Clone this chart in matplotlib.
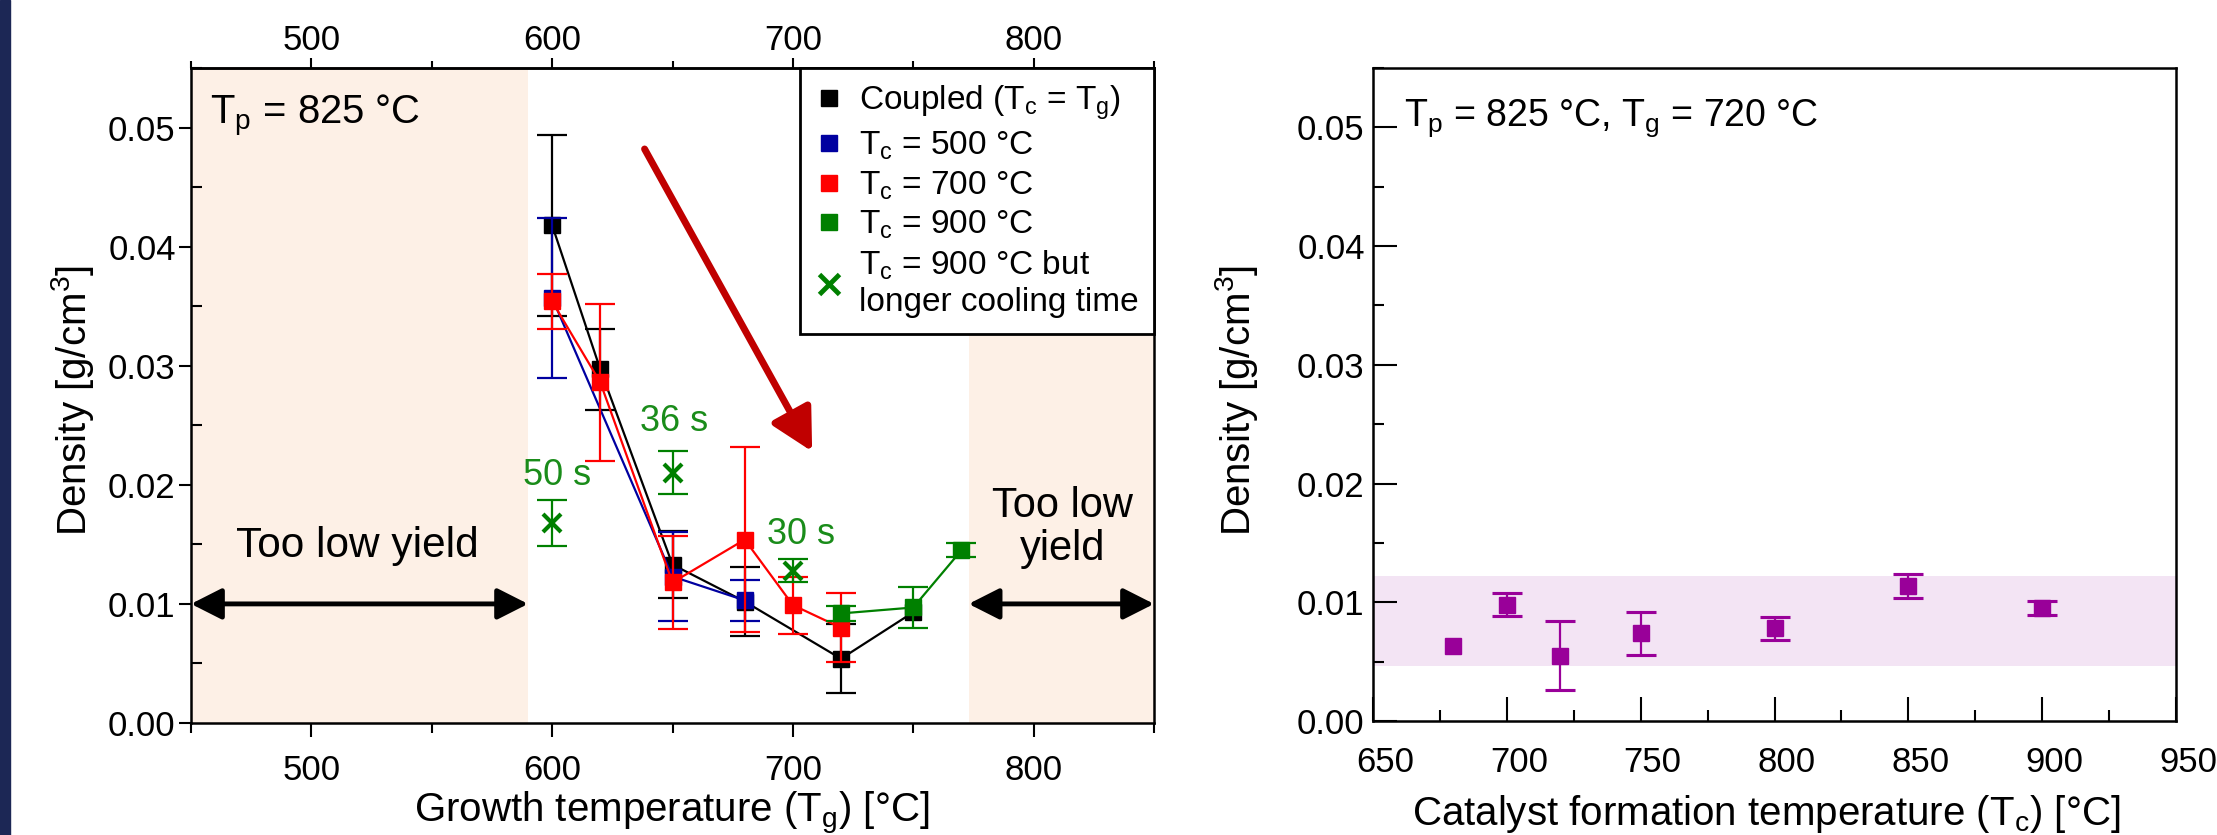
import matplotlib
matplotlib.use('Agg')
import numpy as np
import matplotlib.pyplot as plt
from matplotlib.lines import Line2D
from matplotlib.patches import Rectangle
import matplotlib.transforms as mtransforms
from matplotlib.ticker import MultipleLocator, FormatStrFormatter

plt.rcParams['font.family'] = ['Liberation Sans', 'DejaVu Sans']
plt.rcParams['mathtext.default'] = 'regular'

# ---------------- data (left panel) ----------------
coupled_x = [600, 620, 650, 680, 720, 750]
coupled_y = [0.0418, 0.0297, 0.0133, 0.0102, 0.0054, 0.0093]
coupled_err = [0.0076, 0.0034, 0.0028, 0.0029, 0.0029, 0.0]

tc500_x = [600, 650, 680]
tc500_y = [0.0357, 0.0123, 0.0103]
tc500_err = [0.0067, 0.0037, 0.0017]

tc700_x = [600, 620, 650, 680, 700, 720]
tc700_y = [0.0354, 0.0286, 0.0118, 0.0154, 0.0099, 0.0080]
tc700_err = [0.0023, 0.0066, 0.0039, 0.0078, 0.0024, 0.0029]

tc900_x = [720, 750, 770]
tc900_y = [0.0092, 0.0097, 0.0145]
tc900_err = [0.0006, 0.0017, 0.0006]

tc900long_x = [600, 650, 700]
tc900long_y = [0.0168, 0.0210, 0.0128]
tc900long_err = [0.0019, 0.0018, 0.0010]
tc900long_labels = ['50 s', '36 s', '30 s']

legend_labels = ['Coupled (T$_c$ = T$_g$)', 'T$_c$ = 500 °C', 'T$_c$ = 700 °C',
                 'T$_c$ = 900 °C', 'T$_c$ = 900 °C but\nlonger cooling time']

# ---------------- data (right panel) ----------------
right_x = [680, 700, 720, 750, 800, 850, 900]
right_y = [0.0063, 0.0098, 0.0055, 0.0074, 0.0078, 0.0114, 0.0095]
right_err = [0.0, 0.00098, 0.0029, 0.0018, 0.00096, 0.0010, 0.00058]
band_low, band_high = 0.0046, 0.0122

low_yield_left = (450, 590)
low_yield_right = (773, 850)

# ---------------- styles ----------------
C_BLACK = 'black'
C_BLUE = '#0000a0'
C_RED = '#ff0000'
C_GREEN = '#008000'
C_GTEXT = '#1a8c1a'
C_PURPLE = '#990099'
C_SHADE = '#fdf0e6'
C_BAND = '#f3e4f4'
MS = 12
CAP = 11
LW = 1.6
TICK_FS = 25
LABEL_FS = 29
label_offsets = [(3.6, 34), (1, 37), (6, 26)]  # points, for the "x s" labels

fig = plt.figure(figsize=(22.17, 8.35), dpi=100)
fig.patches.append(Rectangle((0, 0), 10 / 2217, 1, transform=fig.transFigure,
                             color='#1c2755', zorder=0))

axL = fig.add_axes([191 / 2217, 1 - 723 / 835, (1154 - 191) / 2217, (723 - 68) / 835])
axR = fig.add_axes([1373 / 2217, 1 - 721 / 835, (2176 - 1373) / 2217, (721 - 68) / 835])

# ---------- left panel ----------
axL.axvspan(*low_yield_left, color=C_SHADE, lw=0, zorder=0)
axL.axvspan(*low_yield_right, color=C_SHADE, lw=0, zorder=0)


def series(ax, x, y, err, color, z, marker='s', ms=MS, mew=1):
    x = np.asarray(x); y = np.asarray(y); err = np.asarray(err)
    ax.plot(x, y, '-', color=color, lw=LW, zorder=z)
    m = err > 0
    ax.errorbar(x[m], y[m], yerr=err[m], fmt='none', ecolor=color, elinewidth=LW,
                capsize=CAP, capthick=LW, zorder=z)
    ax.plot(x, y, ls='none', marker=marker, ms=ms, color=color, mew=mew, zorder=z + 0.5)


series(axL, coupled_x, coupled_y, coupled_err, C_BLACK, 3)
series(axL, tc500_x, tc500_y, tc500_err, C_BLUE, 4)
series(axL, tc700_x, tc700_y, tc700_err, C_RED, 5)
series(axL, tc900_x, tc900_y, tc900_err, C_GREEN, 6)
xl = np.asarray(tc900long_x); yl = np.asarray(tc900long_y)
axL.errorbar(xl, yl, yerr=tc900long_err, fmt='none', ecolor=C_GREEN, elinewidth=LW,
             capsize=CAP, capthick=LW, zorder=6)
axL.plot(xl, yl, ls='none', marker='x', ms=13, mew=3, color=C_GREEN, zorder=6.5)
for xi, yi, lab, off in zip(tc900long_x, tc900long_y, tc900long_labels, label_offsets):
    axL.annotate(lab, (xi, yi), xytext=off, textcoords='offset points',
                 ha='center', va='center', fontsize=26, color=C_GTEXT, zorder=7)

# double arrows for low-yield regions
for (a, b) in (low_yield_left, low_yield_right):
    axL.annotate('', xy=(b, 0.01), xytext=(a, 0.01),
                 arrowprops=dict(arrowstyle='<|-|>,head_length=0.75,head_width=0.38',
                                 color='black', lw=3.5, mutation_scale=25,
                                 shrinkA=0, shrinkB=0), zorder=8)
axL.text(519, 0.0149, 'Too low yield', ha='center', va='center', fontsize=30.5)
axL.text(812, 0.0164, 'Too low\nyield', ha='center', va='center', fontsize=30,
         linespacing=1.1)

# red trend arrow
axL.annotate('', xy=(708, 0.0228), xytext=(638.4, 0.0482),
             arrowprops=dict(arrowstyle='-|>,head_length=0.85,head_width=0.45',
                             color='#c00000', lw=5, mutation_scale=30,
                             shrinkA=0, shrinkB=0), zorder=8)

axL.text(0.0202, 0.915, 'T$_p$ = 825 °C', transform=axL.transAxes, fontsize=28.8,
         ha='left', va='baseline', zorder=9)

axL.set_xlim(450, 850)
axL.set_ylim(0, 0.055)
axL.xaxis.set_major_locator(MultipleLocator(100))
axL.xaxis.set_minor_locator(MultipleLocator(50))
axL.yaxis.set_major_locator(MultipleLocator(0.01))
axL.yaxis.set_minor_locator(MultipleLocator(0.005))
axL.yaxis.set_major_formatter(FormatStrFormatter('%.2f'))
axL.tick_params(axis='both', which='both', labelsize=TICK_FS, width=1.5)
axL.tick_params(axis='x', which='both', direction='out')
axL.tick_params(axis='x', which='major', length=10, pad=12)
axL.tick_params(axis='x', which='minor', length=7)
axL.tick_params(axis='y', which='major', length=9, direction='out', pad=2)
axL.tick_params(axis='y', which='minor', length=8, direction='in')
for s in axL.spines.values():
    s.set_linewidth(1.8)

secx = axL.secondary_xaxis('top')
secx.xaxis.set_major_locator(MultipleLocator(100))
secx.xaxis.set_minor_locator(MultipleLocator(50))
secx.tick_params(axis='x', which='both', direction='out', labelsize=TICK_FS, width=1.5)
secx.tick_params(axis='x', which='major', length=7, pad=1)
secx.tick_params(axis='x', which='minor', length=5)
secx.spines['top'].set_linewidth(1.8)

handles = [Line2D([], [], ls='none', marker='s', ms=MS, color=C_BLACK),
           Line2D([], [], ls='none', marker='s', ms=MS, color=C_BLUE),
           Line2D([], [], ls='none', marker='s', ms=MS, color=C_RED),
           Line2D([], [], ls='none', marker='s', ms=MS, color=C_GREEN),
           Line2D([], [], ls='none', marker='x', ms=15, mew=3.5, color=C_GREEN)]
leg = axL.legend(handles, legend_labels, loc='upper right', fontsize=24,
                 frameon=True, fancybox=False, framealpha=1, edgecolor='black',
                 borderaxespad=0, borderpad=0.47, handlelength=0.8,
                 handletextpad=0.5, labelspacing=0.22)
leg.get_frame().set_linewidth(2)
leg.set_zorder(10)

# ---------- right panel ----------
axR.axhspan(band_low, band_high, color=C_BAND, lw=0, zorder=0)
rx = np.asarray(right_x); ry = np.asarray(right_y); re = np.asarray(right_err)
m = re > 0
axR.errorbar(rx[m], ry[m], yerr=re[m], fmt='none', ecolor=C_PURPLE, elinewidth=LW,
             capsize=CAP, capthick=LW * 1.4, zorder=3)
axR.plot(rx, ry, ls='none', marker='s', ms=MS, color=C_PURPLE, zorder=4)
axR.text(0.0386, 0.911, 'T$_p$ = 825 °C, T$_g$ = 720 °C', transform=axR.transAxes,
         fontsize=27, ha='left', va='baseline')

axR.set_xlim(650, 950)
axR.set_ylim(0, 0.055)
axR.xaxis.set_major_locator(MultipleLocator(50))
axR.xaxis.set_minor_locator(MultipleLocator(25))
axR.yaxis.set_major_locator(MultipleLocator(0.01))
axR.yaxis.set_minor_locator(MultipleLocator(0.005))
axR.yaxis.set_major_formatter(FormatStrFormatter('%.2f'))
axR.tick_params(axis='both', which='both', labelsize=TICK_FS, width=1.5, direction='in')
axR.tick_params(axis='both', which='major', length=17)
axR.tick_params(axis='both', which='minor', length=8)
axR.tick_params(axis='x', which='major', pad=18)
axR.tick_params(axis='y', which='major', pad=6)
for s in axR.spines.values():
    s.set_linewidth(1.8)
offset = mtransforms.ScaledTranslation(12 / 100, 0, fig.dpi_scale_trans)
for lab in axR.get_xticklabels():
    lab.set_transform(lab.get_transform() + offset)

# ---------- axis labels ----------
fig.text(72 / 2217, 1 - 400 / 835, 'Density [g/cm$^3$]', rotation=90,
         ha='center', va='center', fontsize=LABEL_FS)
fig.text(1237 / 2217, 1 - 400 / 835, 'Density [g/cm$^3$]', rotation=90,
         ha='center', va='center', fontsize=LABEL_FS)
fig.text(672 / 2217, 1 - 822 / 835, 'Growth temperature (T$_g$) [°C]',
         ha='center', va='baseline', fontsize=LABEL_FS)
fig.text(1766 / 2217, 1 - 825 / 835, 'Catalyst formation temperature (T$_c$) [°C]',
         ha='center', va='baseline', fontsize=LABEL_FS)

fig.savefig('out.png', dpi=100)
